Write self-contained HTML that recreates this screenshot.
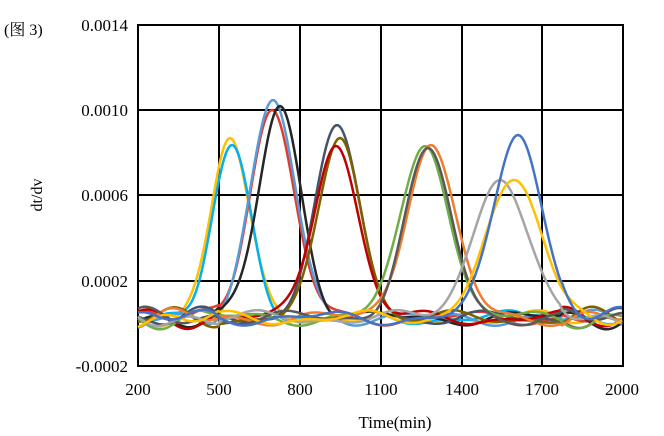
<!DOCTYPE html>
<html><head><meta charset="utf-8"><style>
html,body{margin:0;padding:0;background:#fff;width:664px;height:436px;overflow:hidden}
text{font-family:"Liberation Serif","Noto Serif CJK SC",serif;fill:#000}
</style></head><body>
<svg id="s" width="664" height="436" xmlns="http://www.w3.org/2000/svg">
<text x="4" y="35" font-size="16">(图 3)</text>
<g stroke="#000" stroke-width="2" fill="none">
<rect x="138" y="25" width="485" height="341"/>
<line x1="219" y1="25" x2="219" y2="366"/><line x1="300" y1="25" x2="300" y2="366"/>
<line x1="381" y1="25" x2="381" y2="366"/><line x1="462" y1="25" x2="462" y2="366"/>
<line x1="542" y1="25" x2="542" y2="366"/>
<line x1="138" y1="110" x2="623" y2="110"/><line x1="138" y1="195" x2="623" y2="195"/>
<line x1="138" y1="281" x2="623" y2="281"/>
</g>
<g font-size="17" text-anchor="end">
<text x="128" y="31">0.0014</text><text x="128" y="116">0.0010</text>
<text x="128" y="201">0.0006</text><text x="128" y="287">0.0002</text>
<text x="128" y="372">-0.0002</text>
</g>
<g font-size="17" text-anchor="middle">
<text x="138" y="395">200</text><text x="219" y="395">500</text><text x="300" y="395">800</text>
<text x="381" y="395">1100</text><text x="462" y="395">1400</text><text x="542" y="395">1700</text>
<text x="622" y="395">2000</text>
<text x="395" y="428" font-size="17">Time(min)</text>
<text x="0" y="0" transform="translate(42,195) rotate(-90)" font-size="16">dt/dv</text>
</g>
<g id="c" fill="none" stroke-width="2.5"></g>
</svg>
<script>
var S=[["#ffc000",230,138,19],["#00b0f0",232,145,19],["#e03c31",272,110,22],["#5b9bd5",273,100,22],["#262626",280,106,21],
["#44546a",337,125,22],["#7f6000",340,138,21],["#c00000",336,146,22],["#70ad47",425,146,24],["#ed7d31",431,145,24],
["#595959",428,148,23],["#a5a5a5",500,180,27],["#ffc000",514,180,28],["#4472c4",518,135,24]];
var g=document.getElementById('c'),h='';
S.forEach(function(s,i){var d='';for(var x=138;x<=623;x+=2){var b=318+5*Math.sin(x/23+i*1.7)+4*Math.sin(x/11+i*2.3)*(x<220||x>560?1.6:0.7);
var y=b-(b-s[2])*Math.exp(-Math.pow((x-s[1])/s[3],2)/2);d+=(x==138?'M':'L')+x+' '+y.toFixed(1);}
h+='<path d="'+d+'" stroke="'+s[0]+'"/>';});
g.innerHTML=h;
</script>
</body></html>
